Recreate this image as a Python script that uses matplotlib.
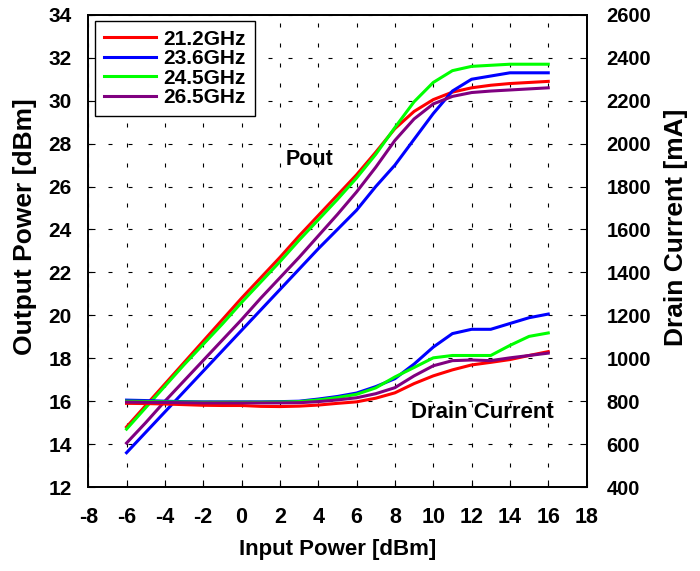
import matplotlib.pyplot as plt

plt.rcParams['font.family'] = ['Liberation Sans', 'DejaVu Sans']
plt.rcParams['font.weight'] = 'bold'
plt.rcParams['axes.unicode_minus'] = False  # "-8" with a plain hyphen

# input power (dBm)
pin = [-6, -5, -4, -3, -2, -1, 0, 1, 2, 3, 4, 5, 6, 7, 8, 9, 10, 11, 12, 13, 14, 15, 16]

# output power (dBm)
pout_212 = [14.8, 15.8, 16.8, 17.8, 18.8, 19.8, 20.8, 21.75, 22.7, 23.7, 24.65, 25.6, 26.55,
            27.6, 28.7, 29.5, 30.05, 30.4, 30.6, 30.72, 30.8, 30.85, 30.9]
pout_236 = [13.6, 14.55, 15.5, 16.45, 17.4, 18.35, 19.3, 20.25, 21.2, 22.15, 23.1, 24.0, 24.9,
            26.0, 27.0, 28.2, 29.4, 30.45, 31.0, 31.15, 31.3, 31.3, 31.3]
pout_245 = [14.7, 15.7, 16.7, 17.7, 18.65, 19.6, 20.6, 21.55, 22.5, 23.5, 24.45, 25.4, 26.4,
            27.5, 28.75, 29.95, 30.85, 31.4, 31.6, 31.65, 31.7, 31.7, 31.7]
pout_265 = [14.05, 15.0, 16.0, 16.95, 17.9, 18.85, 19.8, 20.8, 21.75, 22.7, 23.7, 24.7, 25.75,
            26.9, 28.15, 29.15, 29.85, 30.2, 30.38, 30.45, 30.5, 30.55, 30.6]

# drain current (mA)
id_212 = [790, 789, 787, 784, 781, 780, 780, 776, 775, 777, 782, 790, 797,
          814, 839, 882, 918, 946, 969, 981, 994, 1013, 1031]
id_236 = [805, 803, 800, 798, 797, 797, 797, 797, 798, 800, 810, 822, 838,
          868, 905, 973, 1052, 1115, 1135, 1135, 1162, 1189, 1206]
id_245 = [800, 799, 797, 796, 795, 795, 795, 795, 796, 798, 806, 817, 832,
          862, 913, 957, 1002, 1013, 1013, 1013, 1060, 1102, 1118]
id_265 = [796, 795, 794, 793, 792, 792, 792, 792, 792, 793, 798, 806, 816,
          835, 863, 918, 965, 989, 992, 989, 1002, 1013, 1024]

labels = ['21.2GHz', '23.6GHz', '24.5GHz', '26.5GHz']
colors = ['#ff0000', '#0000ff', '#00ff00', '#800080']
pouts = [pout_212, pout_236, pout_245, pout_265]
currents = [id_212, id_236, id_245, id_265]

fig = plt.figure(figsize=(7, 5.71), dpi=100)
ax = fig.add_axes([0.126, 0.147, 0.712, 0.827])
ax2 = ax.twinx()

for lab, c, p in zip(labels, colors, pouts):
    ax.plot(pin, p, color=c, linewidth=2.2, label=lab)
for c, d in zip(colors, currents):
    ax2.plot(pin, d, color=c, linewidth=2.2)

ax.set_xlim(-8, 18)
ax.set_ylim(12, 34)
ax2.set_ylim(400, 2600)
ax.set_xticks(range(-8, 19, 2))
ax.set_yticks(range(12, 35, 2))
ax2.set_yticks(range(400, 2601, 200))

# sparse dashed grid like the original
ax.grid(True, color='black', linestyle=(0, (3.6, 14.4)), linewidth=0.8)
ax.tick_params(axis='x', direction='in', labelsize=15.5, length=5, pad=14)
ax.tick_params(axis='y', direction='in', labelsize=15, length=5, pad=12)
ax2.tick_params(axis='y', direction='in', labelsize=14.5, length=5, pad=14.5)
for a in (ax, ax2):
    for s in a.spines.values():
        s.set_linewidth(1.3)

ax.set_xlabel('Input Power [dBm]', fontsize=16, fontweight='bold', labelpad=8)
ax.set_ylabel('Output Power [dBm]', fontsize=19, fontweight='bold', labelpad=8)
ax2.set_ylabel('Drain Current [mA]', fontsize=19, fontweight='bold', labelpad=9)
# both y titles sit a bit above the middle in the original
ax.yaxis.label.set_y(0.551)
ax2.yaxis.label.set_y(0.551)

ax.text(3.55, 27.0, 'Pout', fontsize=15.5, fontweight='bold', ha='center', va='baseline')
ax.text(12.57, 15.23, 'Drain Current', fontsize=16, fontweight='bold', ha='center', va='baseline')

leg = ax.legend(loc='upper left', bbox_to_anchor=(0.014, 0.987), borderaxespad=0,
                fontsize=15, handlelength=2.5, labelspacing=0.02, borderpad=0.42,
                handletextpad=0.35, fancybox=False, framealpha=1, edgecolor='black')
leg.get_frame().set_linewidth(1.0)

fig.savefig('out.png', dpi=100)
